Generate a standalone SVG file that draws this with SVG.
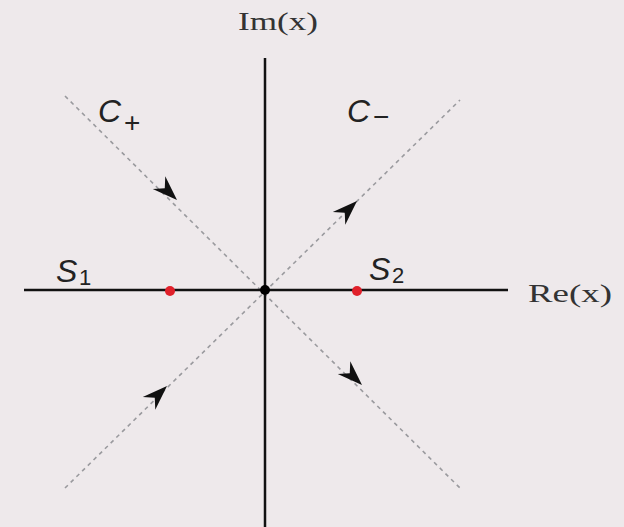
<svg xmlns="http://www.w3.org/2000/svg" width="624" height="527" viewBox="0 0 624 527">
<style>
.axis{stroke:#111;stroke-width:2.5;fill:none}
.path{stroke:#9a9a9e;stroke-width:1.6;stroke-dasharray:4 4;fill:none}
.arr{fill:#111}
.lbl{font-family:"Liberation Sans",Arial,sans-serif;font-style:italic;fill:#222}
.sub{font-family:"Liberation Sans",Arial,sans-serif;fill:#222}
.ser{font-family:"Liberation Serif","Times New Roman",serif;fill:#333}
</style>
<defs>
<path id="ah" d="M0,0 L-25,-9 L-17,0 L-25,9 Z"/>
</defs>
<rect width="624" height="527" fill="#eee9eb"/>
<g id="connectors">
<line class="path" x1="65" y1="96" x2="462" y2="490"/>
<line class="path" x1="65" y1="488" x2="460" y2="100"/>
<line class="axis" x1="24" y1="290" x2="508" y2="290"/>
<line class="axis" x1="265" y1="58" x2="265" y2="527"/>
<use href="#ah" class="arr" transform="translate(177,200) rotate(44)"/>
<use href="#ah" class="arr" transform="translate(362,385) rotate(44)"/>
<use href="#ah" class="arr" transform="translate(167,386) rotate(-44)"/>
<use href="#ah" class="arr" transform="translate(357,201) rotate(-44)"/>
</g>
<g id="origin"><circle cx="265" cy="290" r="5" fill="#000"/></g>
<g id="s1"><circle cx="170" cy="291" r="5" fill="#e0202a"/>
<text class="lbl" x="56" y="282" font-size="32">S</text><text class="sub" x="79" y="285" font-size="22">1</text></g>
<g id="s2"><circle cx="357" cy="291" r="5" fill="#e0202a"/>
<text class="lbl" x="369" y="280" font-size="32">S</text><text class="sub" x="392" y="283" font-size="22">2</text></g>
<g id="cplus"><text class="lbl" x="98" y="122" font-size="32">C</text><text class="sub" x="124" y="132" font-size="28">+</text></g>
<g id="cminus"><text class="lbl" x="347" y="122" font-size="32">C</text><text class="sub" x="373" y="126" font-size="28">−</text></g>
<g id="rex"><text class="ser" x="528" y="302" font-size="25" textLength="84" lengthAdjust="spacingAndGlyphs">Re(x)</text></g>
<g id="imx"><text class="ser" x="238" y="30" font-size="25" textLength="80" lengthAdjust="spacingAndGlyphs">Im(x)</text></g>
</svg>
